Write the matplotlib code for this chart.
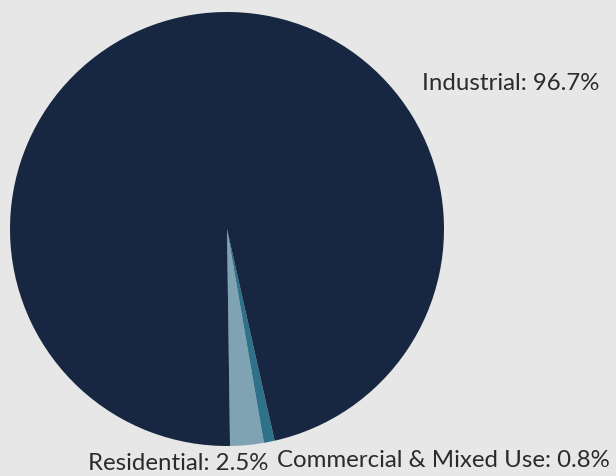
import matplotlib
matplotlib.use("Agg")
import matplotlib.pyplot as plt

# data
categories = ["Residential", "Commercial & Mixed Use", "Industrial"]
shares = [2.5, 0.8, 96.7]
colors = ["#7fa3b3", "#2f7189", "#172742"]

bg = "#e6e7e6"
plt.rcParams['font.family'] = ['Lato', 'DejaVu Sans']

fig = plt.figure(figsize=(6.16, 4.77), dpi=100, facecolor=bg)
ax = fig.add_axes([0, 0, 1, 1])
ax.set_facecolor(bg)

ax.pie(shares, colors=colors, startangle=-89.2, counterclock=True,
       radius=1, center=(0, 0), wedgeprops=dict(linewidth=0))

# pixel mapping: center at (227, 230), radius 217 px
r = 217.0
ax.set_xlim(-227 / r, (616 - 227) / r)
ax.set_ylim(-(477 - 230) / r, 230 / r)
ax.set_aspect('auto')
ax.axis('off')

def px(x, y):
    return (x - 227) / r, (230 - y) / r

labels = [f"{c}: {s}%" for c, s in zip(categories, shares)]
pos = [(88, 464), (277, 461), (422, 84)]
for lab, (x, y) in zip(labels, pos):
    tx, ty = px(x, y)
    ax.text(tx, ty, lab, ha='left', va='center', fontsize=17.3,
            color="#2b2b2b")

fig.savefig("out.png", dpi=100, facecolor=bg)
